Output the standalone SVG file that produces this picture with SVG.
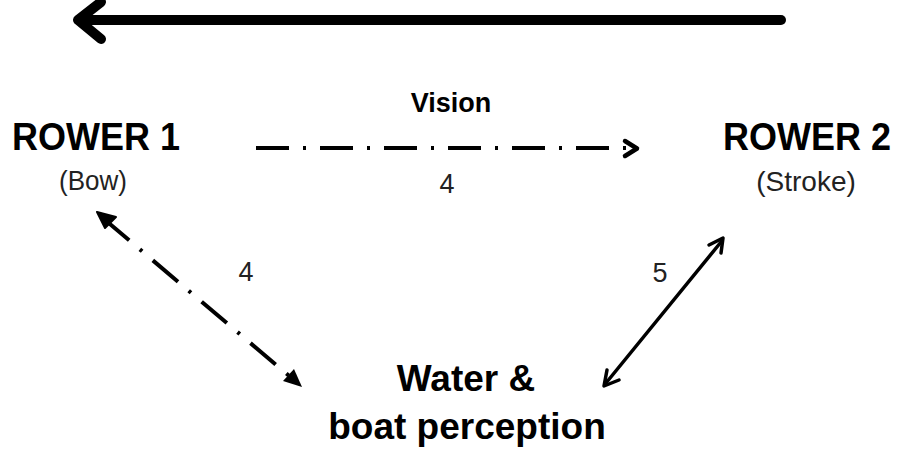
<svg xmlns="http://www.w3.org/2000/svg" width="898" height="450" viewBox="0 0 898 450">
<style>
.b{font-family:"Liberation Sans",Arial,sans-serif;font-weight:bold;fill:#000}
.r{font-family:"Liberation Sans",Arial,sans-serif;fill:#222}
.dd{fill:none;stroke:#000;stroke-width:4;stroke-dasharray:33 14 3 14}
.s{fill:none;stroke:#000;stroke-linecap:round;stroke-linejoin:round}
</style>
<rect width="898" height="450" fill="#fff"/>
<g id="connectors">
  <g id="direction-arrow">
    <line class="s" x1="781" y1="20" x2="80" y2="20" stroke-width="10"/>
    <polyline class="s" points="101,2 78,20 101,39" stroke-width="10"/>
  </g>
  <g id="vision-edge">
    <line class="dd" x1="256" y1="148" x2="630" y2="148"/>
    <polyline class="s" points="625,141 637,148.5 625,156" stroke-width="4.5"/>
  </g>
  <g id="bow-water-edge">
    <line class="dd" x1="104" y1="219" x2="294" y2="380"/>
    <polygon points="97,212 116,217 105,228" fill="#000" stroke="#000" stroke-width="2" stroke-linejoin="round"/>
    <polygon points="302,387 283,381 294,369" fill="#000"/>
  </g>
  <g id="stroke-water-edge">
    <line class="s" x1="606" y1="383" x2="721" y2="242" stroke-width="3.5"/>
    <polyline class="s" points="607,370 604,386 619,380" stroke-width="3.5"/>
    <polyline class="s" points="709,245 723,238 721,253" stroke-width="3.5"/>
  </g>
</g>
<g id="rower1">
  <text class="b" font-size="36" text-anchor="middle" transform="translate(96,150) scale(1,1.08)">ROWER 1</text>
  <text class="r" font-size="26" text-anchor="middle" transform="translate(93,190) scale(1,1.05)">(Bow)</text>
</g>
<g id="rower2">
  <text class="b" font-size="36" text-anchor="middle" transform="translate(807,150) scale(1,1.08)">ROWER 2</text>
  <text class="r" font-size="28" text-anchor="middle" transform="translate(806,191)">(Stroke)</text>
</g>
<g id="water">
  <text class="b" x="466" y="391" font-size="37" text-anchor="middle">Water &amp;</text>
  <text class="b" x="467" y="439" font-size="37" text-anchor="middle">boat perception</text>
</g>
<g id="labels">
  <text class="b" x="451" y="112" font-size="27" text-anchor="middle">Vision</text>
  <text class="r" x="447" y="193" font-size="27" text-anchor="middle">4</text>
  <text class="r" x="246" y="281" font-size="27" text-anchor="middle">4</text>
  <text class="r" x="660" y="282" font-size="27" text-anchor="middle">5</text>
</g>
</svg>
